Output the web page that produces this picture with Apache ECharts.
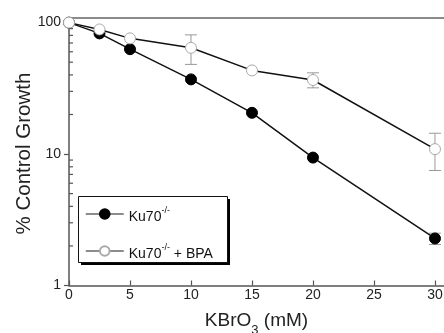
<!DOCTYPE html>
<html><head><meta charset="utf-8">
<script src="https://cdn.jsdelivr.net/npm/echarts@6/dist/echarts.min.js"></script>
<style>html,body{margin:0;padding:0;background:#fff}#c{width:444px;height:333px}</style>
</head><body><div id="c"></div>
<script>
// ---- data ----
const concentrations = [0, 2.5, 5, 10, 15, 20, 30];
const ku70 = [100, 82.8, 62.8, 37.0, 20.6, 9.4, 2.28];
const ku70Bpa = [100, 88.7, 75.9, 64.3, 43.3, 36.6, 10.9];
const ku70ErrX = [30];
const ku70ErrLow = [2.05];
const ku70ErrHigh = [2.5];
const bpaErrX = [10, 20, 30];
const bpaErrLow = [48.1, 31.9, 7.5];
const bpaErrHigh = [80.7, 41.5, 14.4];
const minorTickValues = [2, 3, 4, 5, 6, 7, 8, 9, 20, 30, 40, 50, 60, 70, 80, 90];
const seriesNames = ['Ku70-/-', 'Ku70-/- + BPA'];

const FONT = '"Liberation Sans", Arial, Helvetica, sans-serif';
const AXIS = '#555';

function pairs(xs, ys) { return xs.map((x, i) => [x, ys[i]]); }
function errData(xs, lo, hi) { return xs.map((x, i) => [x, lo[i], hi[i]]); }

function errRender(color) {
  return function (params, api) {
    const x = api.value(0);
    const pLo = api.coord([x, api.value(1)]);
    const pHi = api.coord([x, api.value(2)]);
    const w = 6;
    const st = { stroke: color, lineWidth: 1 };
    return { type: 'group', children: [
      { type: 'line', shape: { x1: pLo[0], y1: pLo[1], x2: pHi[0], y2: pHi[1] }, style: st },
      { type: 'line', shape: { x1: pLo[0] - w, y1: pLo[1], x2: pLo[0] + w, y2: pLo[1] }, style: st },
      { type: 'line', shape: { x1: pHi[0] - w, y1: pHi[1], x2: pHi[0] + w, y2: pHi[1] }, style: st }
    ]};
  };
}

const chart = echarts.init(document.getElementById('c'), null, { renderer: 'canvas' });
chart.setOption({
  animation: false,
  backgroundColor: '#fff',
  textStyle: { fontFamily: FONT },
  grid: { left: 69, right: 0, top: 17.7, bottom: 47.5, containLabel: false, outerBoundsMode: 'none' },
  graphic: [
    { type: 'rect', z: 1, silent: true, left: 81, top: 199,
      shape: { width: 149, height: 66 }, style: { fill: '#000' } },
    { type: 'rect', z: 2, silent: true, left: 78, top: 196,
      shape: { width: 149, height: 66 }, style: { fill: '#fff', stroke: '#111', lineWidth: 1 } }
  ],
  legend: {
    data: seriesNames,
    orient: 'vertical',
    left: 85, top: 206,
    padding: 0,
    z: 10,
    itemWidth: 38, itemHeight: 12, itemGap: 19,
    lineStyle: { color: '#666', width: 1.5 },
    formatter: function (name) {
      return name === seriesNames[0] ? '{a|Ku70}{s|-/-}' : '{a|Ku70}{s|-/-}{a| + BPA}';
    },
    textStyle: {
      fontFamily: FONT, color: '#111', padding: [2, 0, 0, 0],
      rich: {
        a: { fontSize: 14, fontFamily: FONT, color: '#111', lineHeight: 18, verticalAlign: 'bottom' },
        s: { fontSize: 9, fontFamily: FONT, color: '#111', lineHeight: 10, verticalAlign: 'top' }
      }
    }
  },
  xAxis: [{
    type: 'value', min: 0, max: 30.74, interval: 5,
    name: '{a|KBrO}{s|3}{a| (mM)}',
    nameLocation: 'middle', nameGap: 26, nameMoveOverlap: false,
    nameTextStyle: {
      rich: {
        a: { fontSize: 19, fontFamily: FONT, color: '#222', lineHeight: 22, verticalAlign: 'top' },
        s: { fontSize: 13, fontFamily: FONT, color: '#222', lineHeight: 13, verticalAlign: 'top', padding: [12, 0, 0, 0] }
      }
    },
    axisLine: { show: true, onZero: false, lineStyle: { color: AXIS, width: 1.5 } },
    axisTick: { show: true, inside: true, length: 5, lineStyle: { color: AXIS, width: 1.2 } },
    axisLabel: { fontSize: 14, fontFamily: FONT, color: '#222', margin: 3 },
    splitLine: { show: false }
  }, {
    type: 'value', position: 'top', min: 0, max: 30.74,
    axisLine: { show: true, onZero: false, lineStyle: { color: '#666', width: 1.5 } },
    axisTick: { show: false }, axisLabel: { show: false }, splitLine: { show: false }
  }],
  yAxis: {
    type: 'log', logBase: 10, min: 1, max: 109,
    name: '% Control Growth',
    nameLocation: 'middle', nameGap: 34, nameMoveOverlap: false,
    nameTextStyle: { fontSize: 20.5, fontFamily: FONT, color: '#222', padding: [0, 4, 0, 0] },
    axisLine: { show: true, onZero: false, lineStyle: { color: AXIS, width: 1.5 } },
    axisTick: { show: true, inside: false, length: 5, lineStyle: { color: AXIS, width: 1.2 } },
    axisLabel: { fontSize: 14, fontFamily: FONT, color: '#222', margin: 8 },
    splitLine: { show: false }
  },
  series: [
    {
      type: 'custom', name: 'minorTicks', silent: true, z: 1,
      data: minorTickValues.map(v => [0, v]),
      encode: { x: 0, y: 1 },
      clip: false,
      renderItem: function (params, api) {
        const p = api.coord([api.value(0), api.value(1)]);
        return { type: 'line', shape: { x1: p[0], y1: p[1], x2: p[0] + 4, y2: p[1] },
          style: { stroke: AXIS, lineWidth: 1.2 } };
      }
    },
    {
      type: 'custom', name: 'ku70err', silent: true, z: 2,
      data: errData(ku70ErrX, ku70ErrLow, ku70ErrHigh),
      encode: { x: 0, y: [1, 2] }, clip: false,
      renderItem: errRender('#999')
    },
    {
      type: 'custom', name: 'bpaerr', silent: true, z: 2,
      data: errData(bpaErrX, bpaErrLow, bpaErrHigh),
      encode: { x: 0, y: [1, 2] }, clip: false,
      renderItem: errRender('#999')
    },
    {
      type: 'line', name: seriesNames[0], z: 3, clip: false,
      data: pairs(concentrations, ku70),
      symbol: 'circle', symbolSize: 11, showSymbol: true,
      lineStyle: { color: '#111', width: 1.5 },
      itemStyle: { color: '#000', borderColor: '#000', borderWidth: 1 }
    },
    {
      type: 'line', name: seriesNames[1], z: 4, clip: false,
      data: pairs(concentrations, ku70Bpa),
      symbol: 'circle', symbolSize: 11, showSymbol: true,
      lineStyle: { color: '#111', width: 1.5 },
      itemStyle: { color: '#fff', borderColor: '#aaa', borderWidth: 1 }
    }
  ]
});
</script>
</body></html>
